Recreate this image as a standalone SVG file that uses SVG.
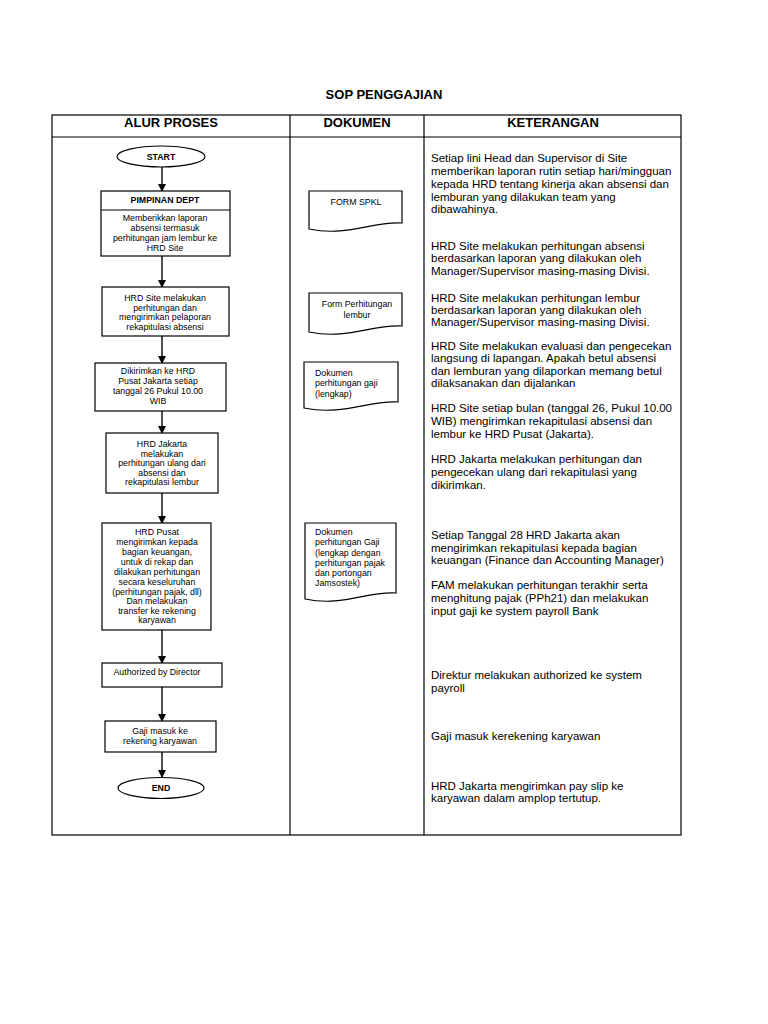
<svg xmlns="http://www.w3.org/2000/svg" width="768" height="1024" viewBox="0 0 768 1024">
<style>
text{font-family:"Liberation Sans",Arial,sans-serif;fill:#000}
.t{font-size:13px;font-weight:bold;text-anchor:middle}
.f{font-size:8.8px;text-anchor:middle}
.fb{font-size:8.8px;font-weight:bold;text-anchor:middle}
.d{font-size:8.8px}
.k{font-size:11.5px}
.box{fill:#fff;stroke:#000;stroke-width:1.2}
.ln{stroke:#000;stroke-width:1.4;fill:none}
</style>
<defs>
<marker id="ah" markerWidth="8" markerHeight="8" refX="7" refY="4" orient="auto" markerUnits="userSpaceOnUse">
<path d="M0,0 L8,4 L0,8 Z" fill="#000"/>
</marker>
</defs>
<rect width="768" height="1024" fill="#fff"/>
<text class="t" x="384" y="99">SOP PENGGAJIAN</text>
<g id="table">
<rect x="52" y="115" width="629" height="720" fill="none" stroke="#000" stroke-width="1.2"/>
<line x1="52" y1="137" x2="681" y2="137" stroke="#000" stroke-width="1.2"/>
<line x1="290" y1="115" x2="290" y2="835" stroke="#000" stroke-width="1.2"/>
<line x1="424" y1="115" x2="424" y2="835" stroke="#000" stroke-width="1.2"/>
<text class="t" x="171" y="127">ALUR PROSES</text>
<text class="t" x="357" y="127">DOKUMEN</text>
<text class="t" x="553" y="127">KETERANGAN</text>
</g>
<g id="connectors">
<line class="ln" x1="162" y1="167" x2="162" y2="191" marker-end="url(#ah)"/>
<line class="ln" x1="162" y1="256" x2="162" y2="287" marker-end="url(#ah)"/>
<line class="ln" x1="162" y1="336" x2="162" y2="363" marker-end="url(#ah)"/>
<line class="ln" x1="162" y1="411" x2="162" y2="433" marker-end="url(#ah)"/>
<line class="ln" x1="162" y1="493" x2="162" y2="523" marker-end="url(#ah)"/>
<line class="ln" x1="162" y1="630" x2="162" y2="663" marker-end="url(#ah)"/>
<line class="ln" x1="162" y1="687" x2="162" y2="721" marker-end="url(#ah)"/>
<line class="ln" x1="162" y1="752" x2="162" y2="777" marker-end="url(#ah)"/>
</g>
<g id="start">
<ellipse class="box" cx="161" cy="156.5" rx="44" ry="10.5"/>
<text class="fb" x="161" y="159.5">START</text>
</g>
<g id="pimpinan">
<rect class="box" x="101" y="191" width="129" height="65"/>
<line x1="101" y1="210" x2="230" y2="210" stroke="#000" stroke-width="1.2"/>
<text class="fb" x="165" y="203">PIMPINAN DEPT</text>
<text class="f" x="165" y="221">Memberikkan laporan</text>
<text class="f" x="165" y="231">absensi termasuk</text>
<text class="f" x="165" y="241">perhitungan jam lembur ke</text>
<text class="f" x="165" y="251">HRD Site</text>
</g>
<g id="hrdsite">
<rect class="box" x="102" y="287" width="127" height="49"/>
<text class="f" x="165" y="301">HRD Site melakukan</text>
<text class="f" x="165" y="311">perhitungan dan</text>
<text class="f" x="165" y="320">mengirimkan pelaporan</text>
<text class="f" x="165" y="330">rekapitulasi absensi</text>
</g>
<g id="dikirim">
<rect class="box" x="95" y="363" width="131" height="48"/>
<text class="f" x="158" y="374">Dikirimkan ke HRD</text>
<text class="f" x="158" y="384">Pusat Jakarta setiap</text>
<text class="f" x="158" y="394">tanggal 26 Pukul 10.00</text>
<text class="f" x="158" y="404">WIB</text>
</g>
<g id="hrdjakarta">
<rect class="box" x="106" y="433" width="112" height="60"/>
<text class="f" x="162" y="447">HRD Jakarta</text>
<text class="f" x="162" y="457">melakukan</text>
<text class="f" x="162" y="466">perhitungan ulang dari</text>
<text class="f" x="162" y="476">absensi dan</text>
<text class="f" x="162" y="485">rekapitulasi lembur</text>
</g>
<g id="hrdpusat">
<rect class="box" x="102" y="523" width="109" height="107"/>
<text class="f" x="157" y="535">HRD Pusat</text>
<text class="f" x="157" y="545">mengirimkan kepada</text>
<text class="f" x="157" y="555">bagian keuangan,</text>
<text class="f" x="157" y="565">untuk di rekap dan</text>
<text class="f" x="157" y="575">dilakukan perhitungan</text>
<text class="f" x="157" y="585">secara keseluruhan</text>
<text class="f" x="157" y="595">(perhitungan pajak, dll)</text>
<text class="f" x="157" y="604">Dan melakukan</text>
<text class="f" x="157" y="614">transfer ke rekening</text>
<text class="f" x="157" y="623">karyawan</text>
</g>
<g id="authorized">
<rect class="box" x="102" y="663" width="120" height="24"/>
<text class="f" x="157" y="675">Authorized by Director</text>
</g>
<g id="gaji">
<rect class="box" x="105" y="721" width="111" height="31"/>
<text class="f" x="160" y="734">Gaji masuk ke</text>
<text class="f" x="160" y="744">rekening karyawan</text>
</g>
<g id="end">
<ellipse class="box" cx="161" cy="788" rx="43" ry="10.5"/>
<text class="fb" x="161" y="791">END</text>
</g>
<g id="doc-spkl">
<path class="box" d="M309,191 H402 V223 C372,221 348,237 309,229 Z"/>
<text class="f" x="356" y="205">FORM SPKL</text>
</g>
<g id="doc-lembur">
<path class="box" d="M309,293 H402 V326 C372,324 348,340 309,332 Z"/>
<text class="f" x="357" y="307">Form Perhitungan</text>
<text class="f" x="357" y="318">lembur</text>
</g>
<g id="doc-gaji">
<path class="box" d="M304,362 H398 V402 C368,400 344,416 304,408 Z"/>
<text class="d" x="315" y="376">Dokumen</text>
<text class="d" x="315" y="386">perhitungan gaji</text>
<text class="d" x="315" y="397">(lengkap)</text>
</g>
<g id="doc-gaji-lengkap">
<path class="box" d="M305,523 H396 V593 C366,591 343,607 305,599 Z"/>
<text class="d" x="315" y="535">Dokumen</text>
<text class="d" x="315" y="545">perhitungan Gaji</text>
<text class="d" x="315" y="556">(lengkap dengan</text>
<text class="d" x="315" y="566">perhitungan pajak</text>
<text class="d" x="315" y="576">dan portongan</text>
<text class="d" x="315" y="586">Jamsostek)</text>
</g>
<g id="keterangan">
<text class="k" x="431" y="162">Setiap lini Head dan Supervisor di Site</text>
<text class="k" x="431" y="175">memberikan laporan rutin setiap hari/mingguan</text>
<text class="k" x="431" y="188">kepada HRD tentang kinerja akan absensi dan</text>
<text class="k" x="431" y="201">lemburan yang dilakukan team yang</text>
<text class="k" x="431" y="213">dibawahinya.</text>
<text class="k" x="431" y="250">HRD Site melakukan perhitungan absensi</text>
<text class="k" x="431" y="262">berdasarkan laporan yang dilakukan oleh</text>
<text class="k" x="431" y="275">Manager/Supervisor masing-masing Divisi.</text>
<text class="k" x="431" y="302">HRD Site melakukan perhitungan lembur</text>
<text class="k" x="431" y="314">berdasarkan laporan yang dilakukan oleh</text>
<text class="k" x="431" y="326">Manager/Supervisor masing-masing Divisi.</text>
<text class="k" x="431" y="350">HRD Site melakukan evaluasi dan pengecekan</text>
<text class="k" x="431" y="362">langsung di lapangan. Apakah betul absensi</text>
<text class="k" x="431" y="375">dan lemburan yang dilaporkan memang betul</text>
<text class="k" x="431" y="387">dilaksanakan dan dijalankan</text>
<text class="k" x="431" y="412">HRD Site setiap bulan (tanggal 26, Pukul 10.00</text>
<text class="k" x="431" y="425">WIB) mengirimkan rekapitulasi absensi dan</text>
<text class="k" x="431" y="438">lembur ke HRD Pusat (Jakarta).</text>
<text class="k" x="431" y="463">HRD Jakarta melakukan perhitungan dan</text>
<text class="k" x="431" y="476">pengecekan ulang dari rekapitulasi yang</text>
<text class="k" x="431" y="489">dikirimkan.</text>
<text class="k" x="431" y="539">Setiap Tanggal 28 HRD Jakarta akan</text>
<text class="k" x="431" y="552">mengirimkan rekapitulasi kepada bagian</text>
<text class="k" x="431" y="564">keuangan (Finance dan Accounting Manager)</text>
<text class="k" x="431" y="589">FAM melakukan perhitungan terakhir serta</text>
<text class="k" x="431" y="602">menghitung pajak (PPh21) dan melakukan</text>
<text class="k" x="431" y="615">input gaji ke system payroll Bank</text>
<text class="k" x="431" y="679">Direktur melakukan authorized ke system</text>
<text class="k" x="431" y="692">payroll</text>
<text class="k" x="431" y="740">Gaji masuk kerekening karyawan</text>
<text class="k" x="431" y="790">HRD Jakarta mengirimkan pay slip ke</text>
<text class="k" x="431" y="802">karyawan dalam amplop tertutup.</text>
</g>
</svg>
